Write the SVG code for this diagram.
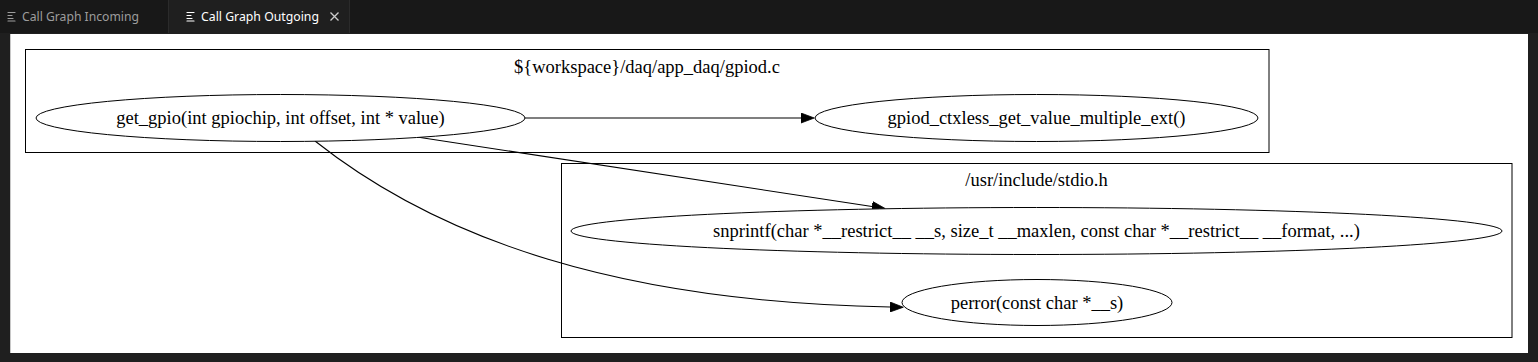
<svg xmlns="http://www.w3.org/2000/svg" width="1538" height="362" viewBox="0 0 1538 362">
<style>
.tabtxt{font-family:"Noto Sans","Open Sans",sans-serif;font-size:13px}
.lbl{font-family:"Liberation Serif","Times New Roman",serif;font-size:18.5px;fill:#000;text-anchor:middle}
.node{fill:#fff;stroke:#000;stroke-width:1}
.cluster{fill:none;stroke:#000;stroke-width:1}
.edge{fill:none;stroke:#000;stroke-width:1.1}
.icon{stroke-width:1.2;stroke-linecap:round}
</style>
<defs>
<marker id="arr" markerUnits="userSpaceOnUse" markerWidth="14" markerHeight="11" refX="0" refY="5" orient="auto" viewBox="0 0 14 10">
<path d="M0,0 L13.3,5 L0,10 z" fill="#000" stroke="#000" stroke-width="0.8"/>
</marker>
</defs>
<!-- window chrome -->
<rect x="0" y="0" width="1538" height="362" fill="#1f1f1f"/>
<rect x="0" y="0" width="1538" height="33" fill="#181818"/>
<g id="tab-incoming">
<rect x="0" y="0" width="168" height="33" fill="#181818"/>
<line x1="168.5" y1="0" x2="168.5" y2="33" stroke="#2b2b2b"/>
<g class="icon" stroke="#9d9d9d">
<line x1="8" y1="12.5" x2="15" y2="12.5"/>
<line x1="8" y1="15.5" x2="12" y2="15.5"/>
<line x1="8" y1="18.5" x2="13" y2="18.5"/>
<line x1="8" y1="21" x2="15" y2="21"/>
</g>
<text class="tabtxt" x="22" y="21" fill="#9d9d9d" textLength="117" lengthAdjust="spacingAndGlyphs">Call Graph Incoming</text>
</g>
<g id="tab-outgoing">
<rect x="169" y="0" width="180" height="34" fill="#1f1f1f"/>
<line x1="349.5" y1="0" x2="349.5" y2="33" stroke="#2b2b2b"/>
<g class="icon" stroke="#ffffff">
<line x1="187" y1="12.5" x2="194" y2="12.5"/>
<line x1="187" y1="15.5" x2="191" y2="15.5"/>
<line x1="187" y1="18.5" x2="192" y2="18.5"/>
<line x1="187" y1="21" x2="194" y2="21"/>
</g>
<text class="tabtxt" x="201" y="21" fill="#ffffff" textLength="118" lengthAdjust="spacingAndGlyphs">Call Graph Outgoing</text>
<path d="M330.5,12.5 L338.5,20.5 M338.5,12.5 L330.5,20.5" stroke="#cccccc" stroke-width="1.3"/>
</g>
<!-- canvas -->
<rect x="10" y="34" width="1518" height="319" fill="#ffffff"/>
<line x1="10.5" y1="34" x2="10.5" y2="353" stroke="#c8c8c8"/>

<g id="cluster-gpiod">
<rect class="cluster" x="25.5" y="49.5" width="1243.5" height="103"/>
<text class="lbl" x="647" y="73">${workspace}/daq/app_daq/gpiod.c</text>
</g>
<g id="cluster-stdio">
<rect class="cluster" x="561.5" y="163.5" width="950.5" height="174"/>
<text class="lbl" x="1036.5" y="186">/usr/include/stdio.h</text>
</g>

<g id="connectors">
<path class="edge" d="M525,118 L801,118" marker-end="url(#arr)"/>
<path class="edge" d="M417,137 L872,206.5" marker-end="url(#arr)"/>
<path class="edge" d="M315,141 C440,240 620,302 890,307" marker-end="url(#arr)"/>
</g>

<g id="node-get_gpio">
<ellipse class="node" cx="280.5" cy="118" rx="244.5" ry="23.5"/>
<text class="lbl" x="280.5" y="124">get_gpio(int gpiochip, int offset, int * value)</text>
</g>
<g id="node-gpiod_ctxless">
<ellipse class="node" cx="1036.5" cy="118" rx="221.5" ry="23.5"/>
<text class="lbl" x="1036.5" y="124">gpiod_ctxless_get_value_multiple_ext()</text>
</g>
<g id="node-snprintf">
<ellipse class="node" cx="1036.5" cy="231" rx="465.5" ry="23.5"/>
<text class="lbl" x="1036.5" y="237">snprintf(char *__restrict__ __s, size_t __maxlen, const char *__restrict__ __format, ...)</text>
</g>
<g id="node-perror">
<ellipse class="node" cx="1037" cy="302.5" rx="135" ry="23"/>
<text class="lbl" x="1037" y="308.5">perror(const char *__s)</text>
</g>
</svg>
